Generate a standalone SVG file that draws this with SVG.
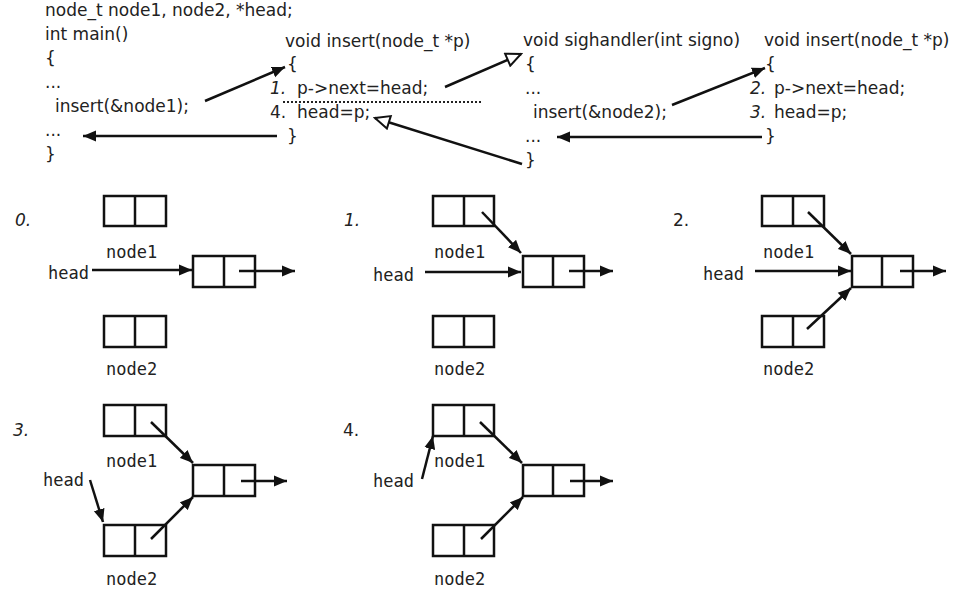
<svg xmlns="http://www.w3.org/2000/svg" width="962" height="593" viewBox="0 0 962 593">
<style>
.code{font-family:"DejaVu Sans",sans-serif;font-size:17px;fill:#222}
.it{font-style:italic}
.lbl{font-family:"DejaVu Sans Mono",monospace;font-size:17px;fill:#222}
.num{font-family:"DejaVu Sans",sans-serif;font-size:17px;fill:#222}
.box rect{fill:none;stroke:#111;stroke-width:2.5}
.box line{stroke:#111;stroke-width:2.5}
.c line{stroke:#111;stroke-width:2.5;fill:none}
.f{marker-end:url(#fa)}
.h{marker-end:url(#ha)}
</style>
<defs>
<marker id="fa" markerUnits="userSpaceOnUse" markerWidth="14" markerHeight="12" refX="13" refY="6" orient="auto">
<path d="M0,0.5 L13,6 L0,11.5 z" fill="#111"/>
</marker>
<marker id="ha" markerUnits="userSpaceOnUse" markerWidth="18" markerHeight="16" refX="16" refY="8" orient="auto">
<path d="M1.5,1.5 L16,8 L1.5,14.5 z" fill="#fff" stroke="#111" stroke-width="2"/>
</marker>
</defs>
<rect width="962" height="593" fill="#fff"/>

<g id="main-code">
<text class="code" x="45" y="16">node_t node1, node2, *head;</text>
<text class="code" x="45" y="40">int main()</text>
<text class="code" x="45" y="64">{</text>
<text class="code" x="45" y="88">...</text>
<text class="code" x="55" y="112">insert(&amp;node1);</text>
<text class="code" x="45" y="136">...</text>
<text class="code" x="45" y="160">}</text>
</g>

<g id="insert-1">
<text class="code" x="285" y="47">void insert(node_t *p)</text>
<text class="code" x="287" y="70">{</text>
<text class="code it" x="270" y="94">1.</text>
<text class="code" x="297" y="94">p-&gt;next=head;</text>
<text class="code" x="270" y="118">4.</text>
<text class="code" x="297" y="118">head=p;</text>
<text class="code" x="287" y="142">}</text>
<line x1="283" y1="102" x2="483" y2="102" stroke="#222" stroke-width="2" stroke-dasharray="2,2"/>
</g>

<g id="sighandler">
<text class="code" x="523" y="46">void sighandler(int signo)</text>
<text class="code" x="525" y="70">{</text>
<text class="code" x="525" y="94">...</text>
<text class="code" x="533" y="118">insert(&amp;node2);</text>
<text class="code" x="525" y="142">...</text>
<text class="code" x="525" y="166">}</text>
</g>

<g id="insert-2">
<text class="code" x="764" y="46">void insert(node_t *p)</text>
<text class="code" x="765" y="70">{</text>
<text class="code it" x="750" y="94">2.</text>
<text class="code" x="774" y="94">p-&gt;next=head;</text>
<text class="code it" x="750" y="118">3.</text>
<text class="code" x="774" y="118">head=p;</text>
<text class="code" x="765" y="142">}</text>
</g>

<g id="labels">
<text class="num it" x="15" y="226">0.</text>
<text class="num it" x="344" y="226">1.</text>
<text class="num" x="673" y="226">2.</text>
<text class="num it" x="13" y="436">3.</text>
<text class="num" x="343" y="436">4.</text>
<text class="lbl" x="106" y="258">node1</text>
<text class="lbl" x="106" y="375">node2</text>
<text class="lbl" x="48" y="279">head</text>
<text class="lbl" x="434" y="258">node1</text>
<text class="lbl" x="434" y="375">node2</text>
<text class="lbl" x="373" y="281">head</text>
<text class="lbl" x="763" y="258">node1</text>
<text class="lbl" x="763" y="375">node2</text>
<text class="lbl" x="703" y="280">head</text>
<text class="lbl" x="106" y="467">node1</text>
<text class="lbl" x="106" y="585">node2</text>
<text class="lbl" x="43" y="486">head</text>
<text class="lbl" x="434" y="467">node1</text>
<text class="lbl" x="434" y="585">node2</text>
<text class="lbl" x="373" y="487">head</text>
</g>

<g id="p0-node1" class="box"><rect x="104" y="196" width="62" height="30"/><line x1="135" y1="196" x2="135" y2="226"/></g>
<g id="p0-mid" class="box"><rect x="193" y="256" width="62" height="31"/><line x1="224" y1="256" x2="224" y2="287"/></g>
<g id="p0-node2" class="box"><rect x="104" y="316" width="62" height="31"/><line x1="135" y1="316" x2="135" y2="347"/></g>

<g id="p1-node1" class="box"><rect x="433" y="196" width="61" height="30"/><line x1="464" y1="196" x2="464" y2="226"/></g>
<g id="p1-mid" class="box"><rect x="523" y="256" width="61" height="31"/><line x1="553" y1="256" x2="553" y2="287"/></g>
<g id="p1-node2" class="box"><rect x="433" y="316" width="61" height="31"/><line x1="464" y1="316" x2="464" y2="347"/></g>

<g id="p2-node1" class="box"><rect x="762" y="196" width="62" height="30"/><line x1="793" y1="196" x2="793" y2="226"/></g>
<g id="p2-mid" class="box"><rect x="852" y="256" width="61" height="31"/><line x1="882" y1="256" x2="882" y2="287"/></g>
<g id="p2-node2" class="box"><rect x="762" y="316" width="62" height="31"/><line x1="793" y1="316" x2="793" y2="347"/></g>

<g id="p3-node1" class="box"><rect x="104" y="405" width="62" height="31"/><line x1="135" y1="405" x2="135" y2="436"/></g>
<g id="p3-mid" class="box"><rect x="193" y="465" width="62" height="31"/><line x1="224" y1="465" x2="224" y2="496"/></g>
<g id="p3-node2" class="box"><rect x="104" y="525" width="62" height="31"/><line x1="135" y1="525" x2="135" y2="556"/></g>

<g id="p4-node1" class="box"><rect x="433" y="405" width="61" height="31"/><line x1="464" y1="405" x2="464" y2="436"/></g>
<g id="p4-mid" class="box"><rect x="523" y="465" width="61" height="31"/><line x1="553" y1="465" x2="553" y2="496"/></g>
<g id="p4-node2" class="box"><rect x="433" y="525" width="61" height="31"/><line x1="464" y1="525" x2="464" y2="556"/></g>

<g id="connectors" class="c">
<line class="f" x1="205" y1="101" x2="285" y2="67"/>
<line class="f" x1="277" y1="136" x2="83" y2="136"/>
<line class="h" x1="445" y1="87" x2="521" y2="54"/>
<line class="h" x1="522" y1="164" x2="375" y2="118"/>
<line class="f" x1="672" y1="105" x2="765" y2="68"/>
<line class="f" x1="762" y1="137" x2="557" y2="137"/>

<line class="f" x1="92" y1="270" x2="192" y2="270"/>
<line class="f" x1="239" y1="271" x2="295" y2="271"/>

<line class="f" x1="425" y1="272" x2="521" y2="272"/>
<line class="f" x1="482" y1="212" x2="521" y2="253"/>
<line class="f" x1="569" y1="271" x2="613" y2="271"/>

<line class="f" x1="755" y1="271" x2="851" y2="271"/>
<line class="f" x1="808" y1="212" x2="851" y2="254"/>
<line class="f" x1="807" y1="329" x2="851" y2="288"/>
<line class="f" x1="900" y1="271" x2="946" y2="271"/>

<line class="f" x1="90" y1="480" x2="103" y2="522"/>
<line class="f" x1="151" y1="422" x2="193" y2="463"/>
<line class="f" x1="151" y1="539" x2="193" y2="497"/>
<line class="f" x1="241" y1="481" x2="287" y2="481"/>

<line class="f" x1="422" y1="479" x2="433" y2="436"/>
<line class="f" x1="480" y1="422" x2="522" y2="463"/>
<line class="f" x1="481" y1="539" x2="523" y2="497"/>
<line class="f" x1="570" y1="481" x2="613" y2="481"/>
</g>
</svg>
